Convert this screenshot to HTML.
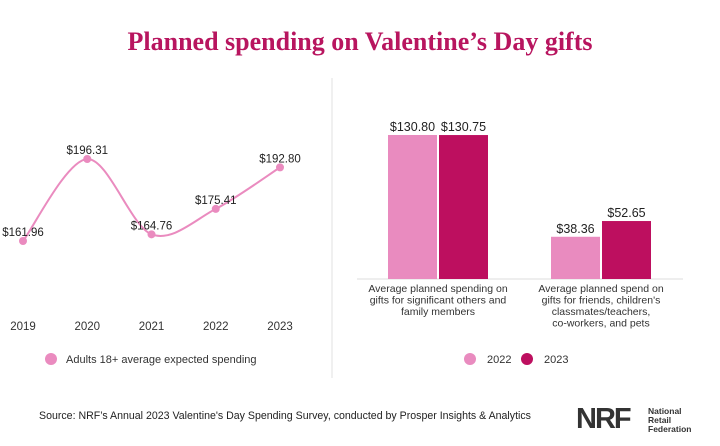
<!DOCTYPE html>
<html><head><meta charset="utf-8"><style>
body{margin:0;width:720px;height:441px;background:#fff;overflow:hidden;font-family:"Liberation Sans",sans-serif}
</style></head><body>
<svg id="c" width="720" height="441" font-family="Liberation Sans, sans-serif">
<text x="360" y="50" text-anchor="middle" style="font-family:'Liberation Serif',serif" font-weight="bold" font-size="26" fill="#b8155f">Planned spending on Valentine’s Day gifts</text>
<line x1="332" y1="78" x2="332" y2="378" stroke="#e2e2e2"/>
<g id="line"></g><g id="bars"></g>
<text x="39" y="419" font-size="10.6" fill="#222">Source: NRF’s Annual 2023 Valentine's Day Spending Survey, conducted by Prosper Insights &amp; Analytics</text>
<text x="576" y="428" font-size="29" font-weight="bold" fill="#333" letter-spacing="-2">NRF</text>
<text x="648" y="414" font-size="8.5" font-weight="bold" fill="#333"><tspan x="648">National</tspan><tspan x="648" dy="9">Retail</tspan><tspan x="648" dy="9">Federation</tspan></text>
</svg>
<script>
const years=["2019","2020","2021","2022","2023"];
const spend=[161.96,196.31,164.76,175.41,192.80];
const spendLabels=["$161.96","$196.31","$164.76","$175.41","$192.80"];
const categories=[["Average planned spending on","gifts for significant others and","family members"],["Average planned spend on","gifts for friends, children's","classmates/teachers,","co-workers, and pets"]];
const s2022=[130.80,38.36];
const s2023=[130.75,52.65];
const ns="http://www.w3.org/2000/svg";
function mk(t,a,p,txt){const e=document.createElementNS(ns,t);for(const k in a)e.setAttribute(k,a[k]);if(txt!=null)e.textContent=txt;p.appendChild(e);return e;}
const L=document.getElementById('line');
const lx=i=>23+i*64.25, ly=v=>241-(v-161.96)*2.387;
const pts=spend.map((v,i)=>[lx(i),ly(v)]);
let d=`M${pts[0][0]},${pts[0][1]}`;
for(let i=0;i<pts.length-1;i++){const p0=pts[Math.max(0,i-1)],p1=pts[i],p2=pts[i+1],p3=pts[Math.min(pts.length-1,i+2)];const t=0.16;
d+=` C${p1[0]+(p2[0]-p0[0])*t},${p1[1]+(p2[1]-p0[1])*t} ${p2[0]-(p3[0]-p1[0])*t},${p2[1]-(p3[1]-p1[1])*t} ${p2[0]},${p2[1]}`;}
let e=mk('path',{d,fill:'none',stroke:'#ea8bbf','stroke-width':2},L);

spend.forEach((v,i)=>{
 e=mk('circle',{cx:lx(i),cy:ly(v),r:4,fill:'#ea8bbf'},L);
 
 e=mk('text',{x:lx(i),y:ly(v)-5,'text-anchor':'middle','font-size':11.5,fill:'#222'},L,spendLabels[i]);
 
 e=mk('text',{x:lx(i),y:330,'text-anchor':'middle','font-size':11.5,fill:'#333'},L,years[i]);
 
});
e=mk('circle',{cx:51,cy:359,r:6,fill:'#ea8bbf'},L);

e=mk('text',{x:66,y:363,'font-size':11,fill:'#333'},L,'Adults 18+ average expected spending');

const B=document.getElementById('bars');
const base=279, k=1.101, gx=[388,551], bw=49;
e=mk('line',{x1:357,y1:base,x2:683,y2:base,stroke:'#ddd'},B);

const series=[[s2022,'#e98bbf','2022'],[s2023,'#bd0f5f','2023']];
categories.forEach((c,i)=>{
 series.forEach(([arr,col,nm],j)=>{
  const x=gx[i]+j*51,h=arr[i]*k;
  e=mk('rect',{x,y:base-h,width:bw,height:h,fill:col},B);
  
  e=mk('text',{x:x+bw/2,y:base-h-4,'text-anchor':'middle','font-size':12.5,fill:'#222'},B,'$'+arr[i].toFixed(2));
  
 });
 c.forEach((ln,m)=>{
  e=mk('text',{x:gx[i]+50,y:292+m*11.5,'text-anchor':'middle','font-size':10.5,fill:'#333'},B,ln);
  
 });
});
[[470,'#e98bbf','2022'],[527,'#bd0f5f','2023']].forEach(([x,col,nm])=>{
 e=mk('circle',{cx:x,cy:359,r:6,fill:col},B);
 
 e=mk('text',{x:x+17,y:363,'font-size':11,fill:'#333'},B,nm);
 
});
</script>
</body></html>
